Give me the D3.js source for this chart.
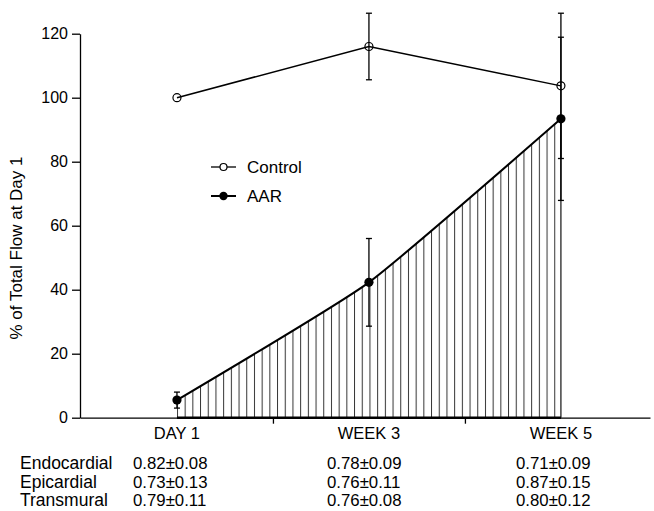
<!DOCTYPE html>
<html><head><meta charset="utf-8">
<script src="https://cdn.jsdelivr.net/npm/d3@7"></script>
<style>
body{margin:0;background:#fff;}
svg{display:block;font-family:"Liberation Sans",Arial,Helvetica,sans-serif;}
</style></head>
<body>
<svg id="chart" width="654" height="511"></svg>
<script>
const categories = ["DAY 1", "WEEK 3", "WEEK 5"];
const controlMean = [100, 116.0, 103.7];
const controlErr  = [0, 10.4, 22.7];
const aarMean     = [5.5, 42.3, 93.4];
const aarErr      = [2.5, 13.7, 25.5];
const yTicks = [0, 20, 40, 60, 80, 100, 120];
const tableRows = ["Endocardial", "Epicardial", "Transmural"];
const tableDay1  = ["0.82±0.08", "0.73±0.13", "0.79±0.11"];
const tableWeek3 = ["0.78±0.09", "0.76±0.11", "0.76±0.08"];
const tableWeek5 = ["0.71±0.09", "0.87±0.15", "0.80±0.12"];
const legendLabels = ["Control", "AAR"];

const svg = d3.select("#chart");
const x = d3.scaleLinear().domain([-0.505, 2.464]).range([80, 650]);
const y = d3.scaleLinear().domain([0, 120]).range([417.7, 33.7]);
const font = "Liberation Sans, Arial, sans-serif";
const aarCurve = d3.curveCardinal.tension(0.55);

// hatch pattern
const defs = svg.append("defs");
const pat = defs.append("pattern").attr("id","hatch").attr("patternUnits","userSpaceOnUse")
  .attr("width",7.7).attr("height",10).attr("x", x(0));
pat.append("line").attr("x1",0.5).attr("x2",0.5).attr("y1",0).attr("y2",10)
  .attr("stroke","#333").attr("stroke-width",1);

const idx = categories.map((c,i)=>i);

// hatched area
const area = d3.area().x(i=>x(i)).y0(y(0)).y1(i=>y(aarMean[i])).curve(aarCurve);
svg.append("path").datum(idx).attr("d",area).attr("fill","url(#hatch)");
svg.append("line").attr("x1",x(2)).attr("x2",x(2)).attr("y1",y(0)).attr("y2",y(aarMean[2]))
  .attr("stroke","#111").attr("stroke-width",1.2);

// axes
const yAxis = svg.append("g").attr("transform",`translate(${x.range()[0]},0)`)
  .call(d3.axisLeft(y).tickValues(yTicks).tickSize(8).tickSizeOuter(0).tickPadding(4));
yAxis.selectAll("text").attr("font-size",16).attr("font-family",font).attr("fill","#000");
yAxis.selectAll("line,path").attr("stroke","#000").attr("stroke-width",1.3);

const xAxis = svg.append("g").attr("transform",`translate(0,${y(0)})`)
  .call(d3.axisBottom(x).tickValues([0.5,1.5]).tickFormat("").tickSize(6).tickSizeOuter(0));
xAxis.selectAll("line,path").attr("stroke","#000").attr("stroke-width",1.3);
svg.append("line").attr("x1",x(0)).attr("x2",x(2)).attr("y1",y(0)).attr("y2",y(0))
  .attr("stroke","#000").attr("stroke-width",2.4);

// category labels
svg.selectAll("text.cat").data(categories).enter().append("text").attr("class","cat")
  .attr("x",(d,i)=>x(i)).attr("y",439).attr("text-anchor","middle")
  .attr("font-size",16.5).attr("font-family",font).text(d=>d);

// y label
svg.append("text").attr("transform","translate(22,248) rotate(-90)")
  .attr("text-anchor","middle").attr("font-size",17).attr("font-family",font)
  .text("% of Total Flow at Day 1");

// error bars
function errBars(mean, err){
  const g = svg.append("g");
  idx.forEach(i=>{
    if(!err[i]) return;
    const top = y(mean[i]+err[i]), bot = y(mean[i]-err[i]), cx = x(i);
    g.append("line").attr("x1",cx).attr("x2",cx).attr("y1",top).attr("y2",bot)
      .attr("stroke","#000").attr("stroke-width",1.3);
    [top,bot].forEach(v=>g.append("line").attr("x1",cx-3).attr("x2",cx+3).attr("y1",v).attr("y2",v)
      .attr("stroke","#000").attr("stroke-width",1.3));
  });
}
errBars(controlMean, controlErr);
errBars(aarMean, aarErr);

// AAR line
svg.append("path").datum(idx)
  .attr("d",d3.line().x(i=>x(i)).y(i=>y(aarMean[i])).curve(aarCurve))
  .attr("fill","none").attr("stroke","#000").attr("stroke-width",2);
// Control line
svg.append("path").datum(idx)
  .attr("d",d3.line().x(i=>x(i)).y(i=>y(controlMean[i])))
  .attr("fill","none").attr("stroke","#000").attr("stroke-width",1.5);

svg.selectAll("circle.ctl").data(idx).enter().append("circle")
  .attr("cx",i=>x(i)).attr("cy",i=>y(controlMean[i])).attr("r",4)
  .attr("fill","none").attr("stroke","#000").attr("stroke-width",1.2);
svg.selectAll("circle.aar").data(idx).enter().append("circle")
  .attr("cx",i=>x(i)).attr("cy",i=>y(aarMean[i])).attr("r",4.6).attr("fill","#000");

// legend
const lg = svg.append("g");
legendLabels.forEach((lab,k)=>{
  const ly = 167 + k*29;
  lg.append("line").attr("x1",211).attr("x2",236).attr("y1",ly).attr("y2",ly)
    .attr("stroke","#000").attr("stroke-width",k? 2:1.3);
  const c = lg.append("circle").attr("cx",223.5).attr("cy",ly).attr("r",k?4.2:3.5);
  if(k) c.attr("fill","#000"); else c.attr("fill","#fff").attr("stroke","#000").attr("stroke-width",1.2);
  lg.append("text").attr("x",247).attr("y",ly+6).attr("font-size",17).attr("font-family",font).text(lab);
});

// table
const rowY = [469, 487.5, 506];
const colX = [133, 327, 516];
const cols = [tableDay1, tableWeek3, tableWeek5];
tableRows.forEach((r,ri)=>{
  svg.append("text").attr("x",20).attr("y",rowY[ri]).attr("font-size",17.5).attr("font-family",font).text(r);
  cols.forEach((col,ci)=>{
    svg.append("text").attr("x",colX[ci]).attr("y",rowY[ri]).attr("font-size",16.8)
      .attr("font-family",font).text(col[ri]);
  });
});
</script>
</body></html>
